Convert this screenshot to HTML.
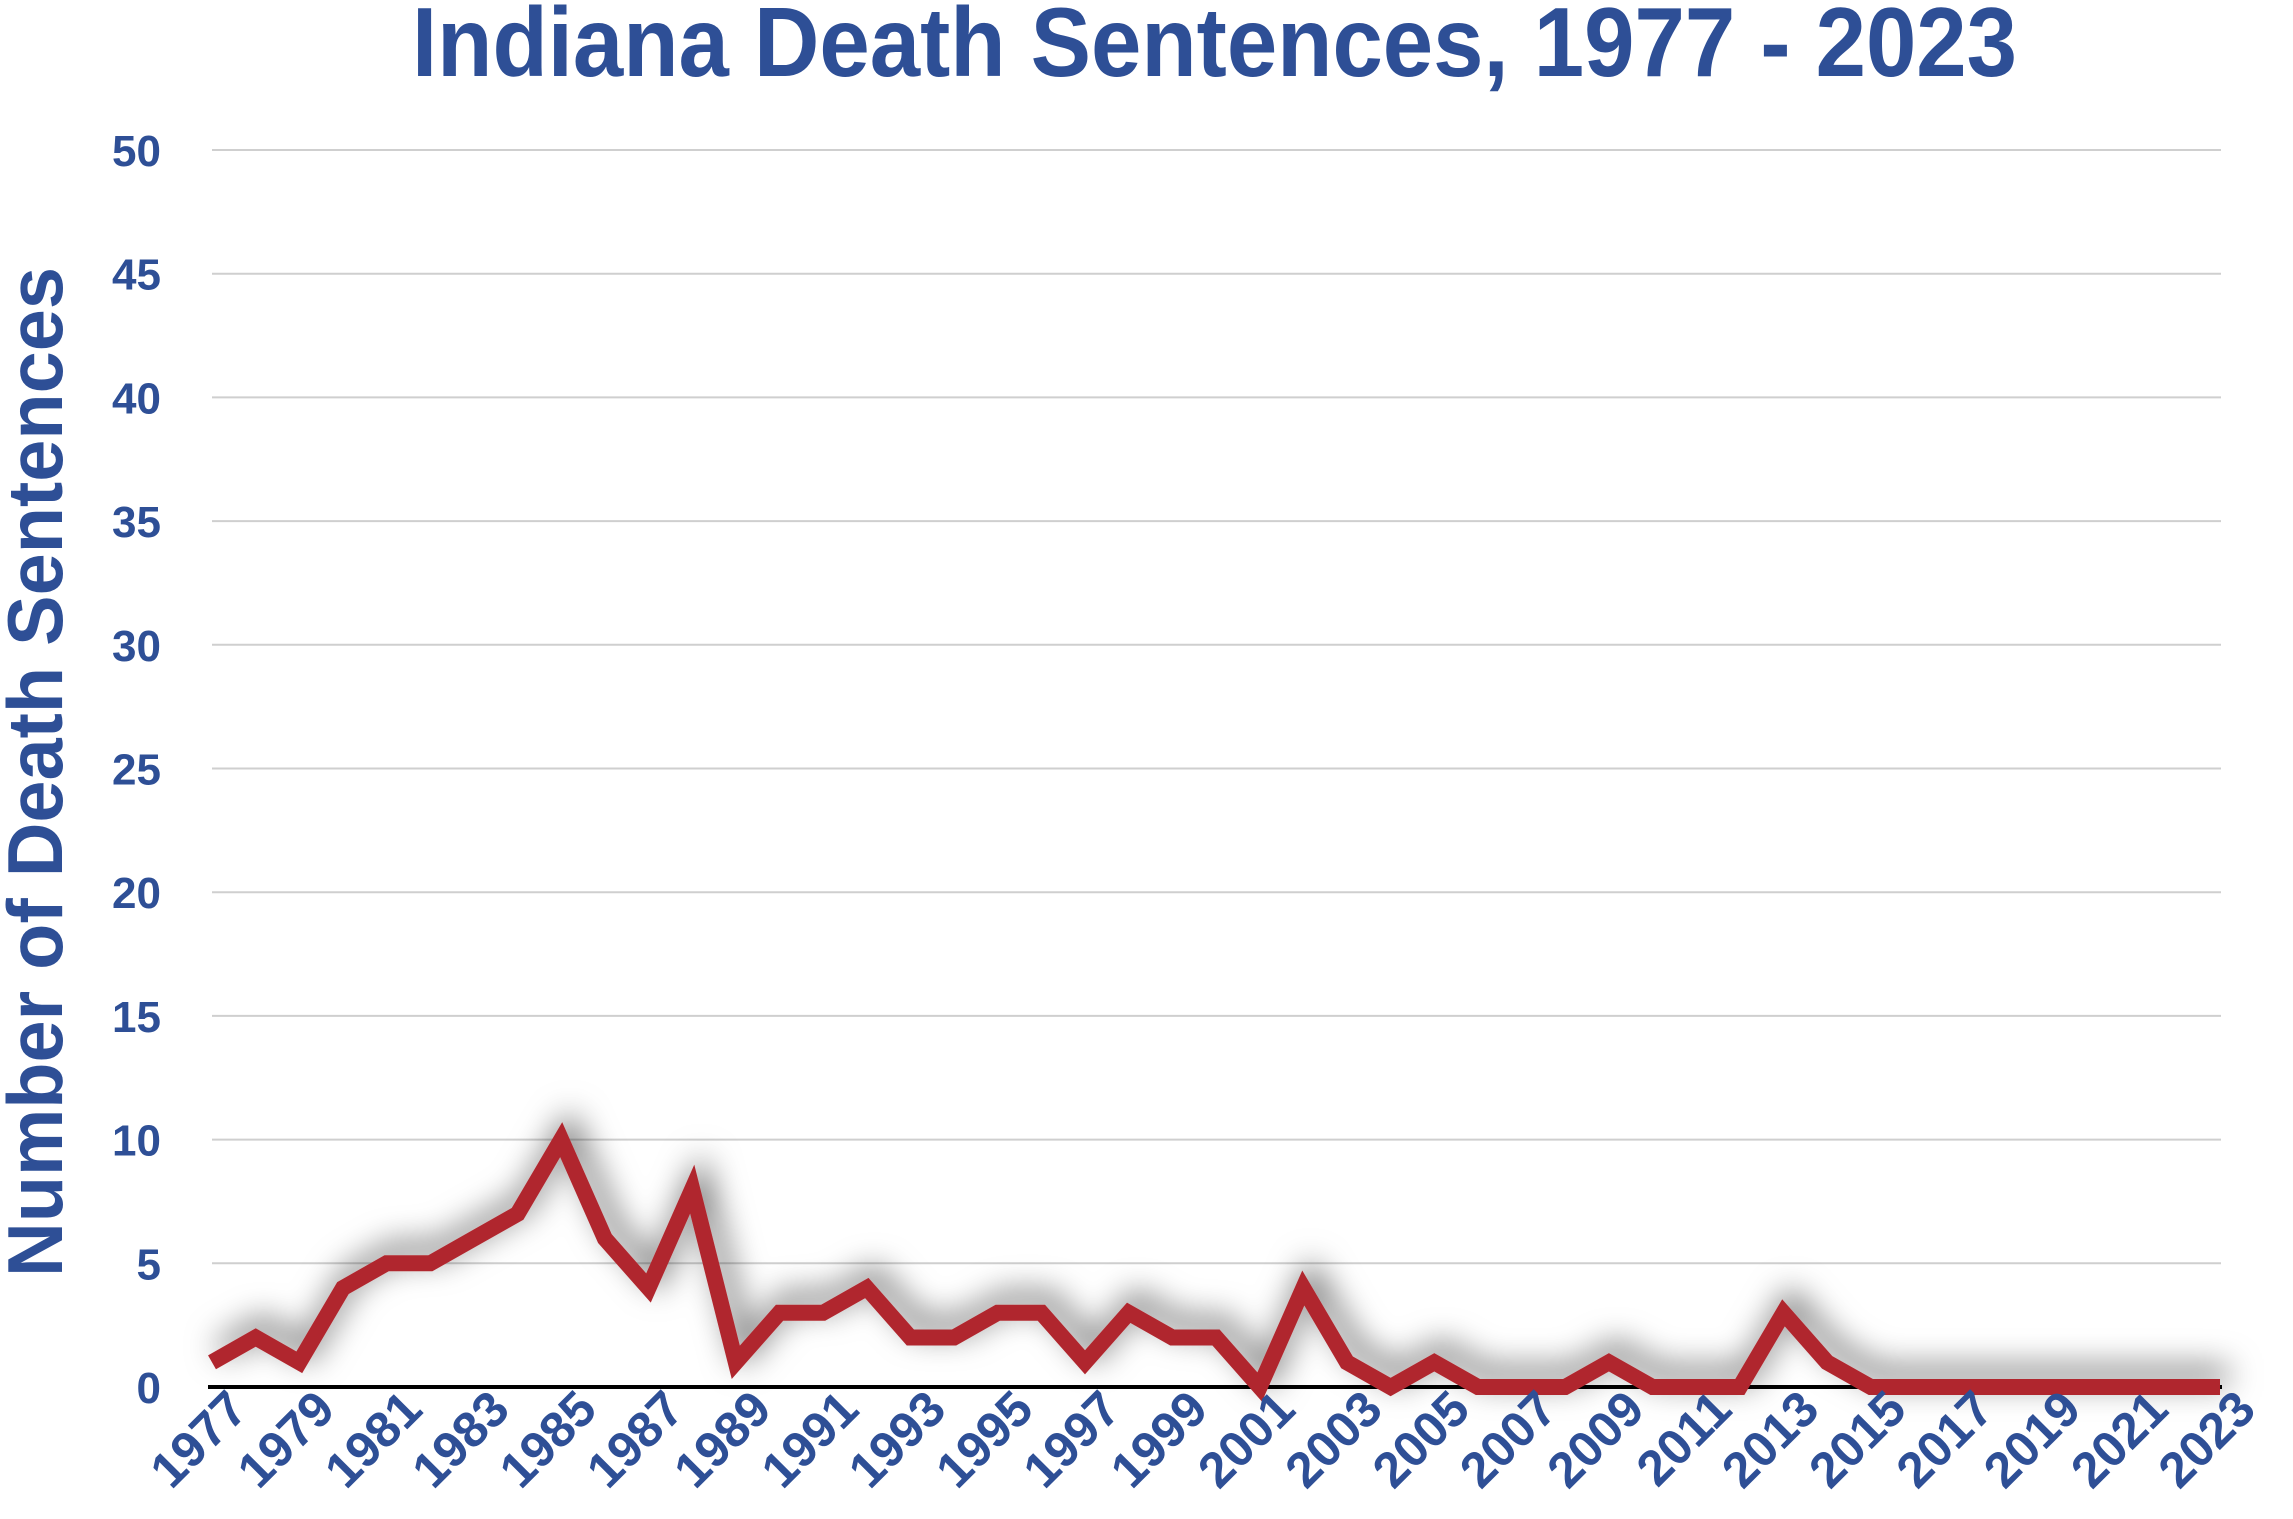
<!DOCTYPE html>
<html><head><meta charset="utf-8"><style>
html,body{margin:0;padding:0;background:#fff;}
svg{display:block;}
text{font-family:"Liberation Sans",sans-serif;font-weight:bold;fill:#2e4f96;}
</style></head><body>
<svg width="2293" height="1519" viewBox="0 0 2293 1519" xmlns="http://www.w3.org/2000/svg">
<defs>
<filter id="sh" x="-10%" y="-50%" width="120%" height="200%">
<feDropShadow dx="8" dy="-12" stdDeviation="16" flood-color="#000" flood-opacity="0.6"/>
</filter>
</defs>
<text x="412" y="76" font-size="98" textLength="1605" lengthAdjust="spacingAndGlyphs">Indiana Death Sentences, 1977 - 2023</text>
<g id="grid" stroke="#cfcfcf" stroke-width="2"></g>
<g id="yl"></g>
<line x1="208" y1="1387" x2="2222" y2="1387" stroke="#000" stroke-width="4"/>
<text transform="translate(62,772) rotate(-90)" text-anchor="middle" font-size="78" textLength="1010" lengthAdjust="spacingAndGlyphs">Number of Death Sentences</text>
<polyline id="ln" fill="none" stroke="#b0282f" stroke-width="16" stroke-linejoin="miter" filter="url(#sh)"/>
<g id="xl"></g>
</svg>
<script>
var ns="http://www.w3.org/2000/svg";
var d=[1,2,1,4,5,5,6,7,10,6,4,8,1,3,3,4,2,2,3,3,1,3,2,2,0,4,1,0,1,0,0,0,1,0,0,0,3,1,0,0,0,0,0,0,0,0,0];
var x0=212,dx=(2220-212)/46,y0=1387,u=24.74;
var pts=d.map(function(v,i){return (x0+i*dx).toFixed(1)+","+(y0-v*u).toFixed(1);}).join(" ");
document.getElementById("ln").setAttribute("points",pts);
var g=document.getElementById("grid"),yl=document.getElementById("yl"),xl=document.getElementById("xl");
for(var k=1;k<=10;k++){var y=y0-k*5*u;var l=document.createElementNS(ns,"line");
l.setAttribute("x1",212);l.setAttribute("x2",2221);l.setAttribute("y1",y);l.setAttribute("y2",y);g.appendChild(l);}
for(var k=0;k<=10;k++){var y=y0-k*5*u;var t=document.createElementNS(ns,"text");
t.setAttribute("x",161);t.setAttribute("y",y+16);t.setAttribute("text-anchor","end");t.setAttribute("font-size","44");
t.textContent=k*5;yl.appendChild(t);}
for(var i=0;i<=46;i+=2){var x=x0+i*dx+38;var t=document.createElementNS(ns,"text");
t.setAttribute("transform","translate("+x+",1412) rotate(-45)");t.setAttribute("text-anchor","end");t.setAttribute("font-size","50");
t.textContent=1977+i;xl.appendChild(t);}
</script>
</body></html>
